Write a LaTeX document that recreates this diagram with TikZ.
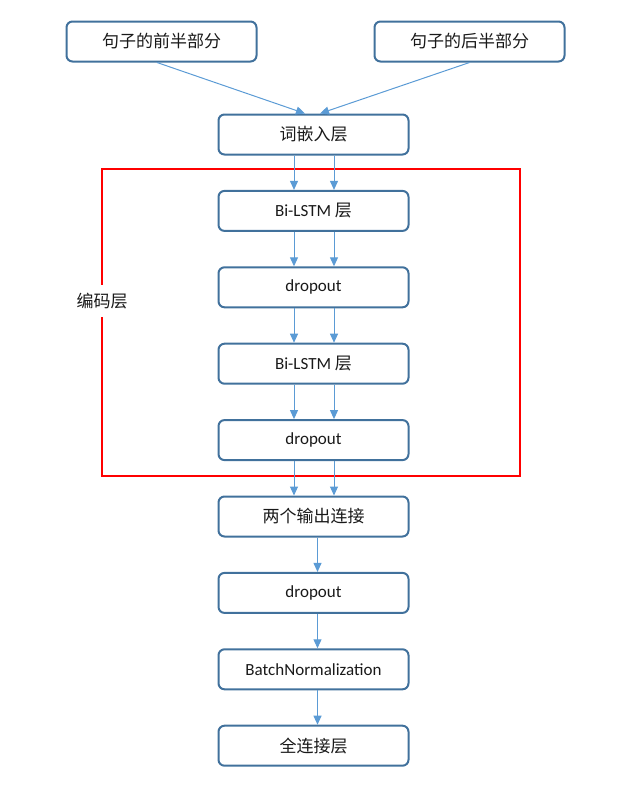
\documentclass[tikz,border=0pt]{standalone}
\usepackage{fontspec}
\setmainfont{Carlito}
\newfontfamily\cjk{Noto Sans CJK SC}
\usetikzlibrary{arrows.meta, positioning}

\definecolor{boxline}{HTML}{41719C}
\definecolor{arrowline}{HTML}{5B9BD5}

\begin{document}
\begin{tikzpicture}[x=1pt, y=-1pt, node distance=34.4pt,
    layer/.style={draw=boxline, line width=2pt, rounded corners=6pt, minimum width=190pt,
                  minimum height=40pt, font=\fontsize{17}{20}\selectfont, text=black!90},
    flow/.style={arrowline, line width=1pt, -{Triangle[length=9pt, width=8pt]}},
    encframe/.style={red, line width=2pt}]

    \useasboundingbox (0,0) rectangle (636,790);

    %define the layers
    \node[layer] (front) at (161.5,41.5) {\cjk 句子的前半部分};
    \node[layer] (back) at (469.5,41.5) {\cjk 句子的后半部分};
    \node[layer] (embed) at (313.5,134.5) {\cjk 词嵌入层};
    \node[layer] (lstm1) [below=of embed] {Bi-LSTM {\cjk 层}};
    \node[layer] (drop1) [below=of lstm1] {dropout};
    \node[layer] (lstm2) [below=of drop1] {Bi-LSTM {\cjk 层}};
    \node[layer] (drop2) [below=of lstm2] {dropout};
    \node[layer] (concat) [below=of drop2] {\cjk 两个输出连接};
    \node[layer] (drop3) [below=of concat] {dropout};
    \node[layer] (bn) [below=of drop3] {BatchNormalization};
    \node[layer] (dense) [below=of bn] {\cjk 全连接层};

    %define the encoder frame
    \draw[encframe] (102,169) rectangle (520,476);
    \node[fill=white, inner xsep=2pt, inner ysep=8pt, font=\fontsize{17}{20}\selectfont\cjk, text=black!90]
        (enclabel) at (102,301) {编码层};

    %define the links
    \draw[flow] ([xshift=-4.5pt]front.south) -- ([xshift=-8.5pt]embed.north);
    \draw[flow] (back.south) -- ([xshift=6.5pt]embed.north);
    \foreach \a/\b in {embed/lstm1, lstm1/drop1, drop1/lstm2, lstm2/drop2, drop2/concat} {
        \draw[flow] ([xshift=-19.5pt]\a.south) -- ([xshift=-19.5pt]\b.north);
        \draw[flow] ([xshift=20.5pt]\a.south) -- ([xshift=20.5pt]\b.north);
    }
    \foreach \a/\b in {concat/drop3, drop3/bn, bn/dense}
        \draw[flow] ([xshift=4pt]\a.south) -- ([xshift=4pt]\b.north);
\end{tikzpicture}
\end{document}
